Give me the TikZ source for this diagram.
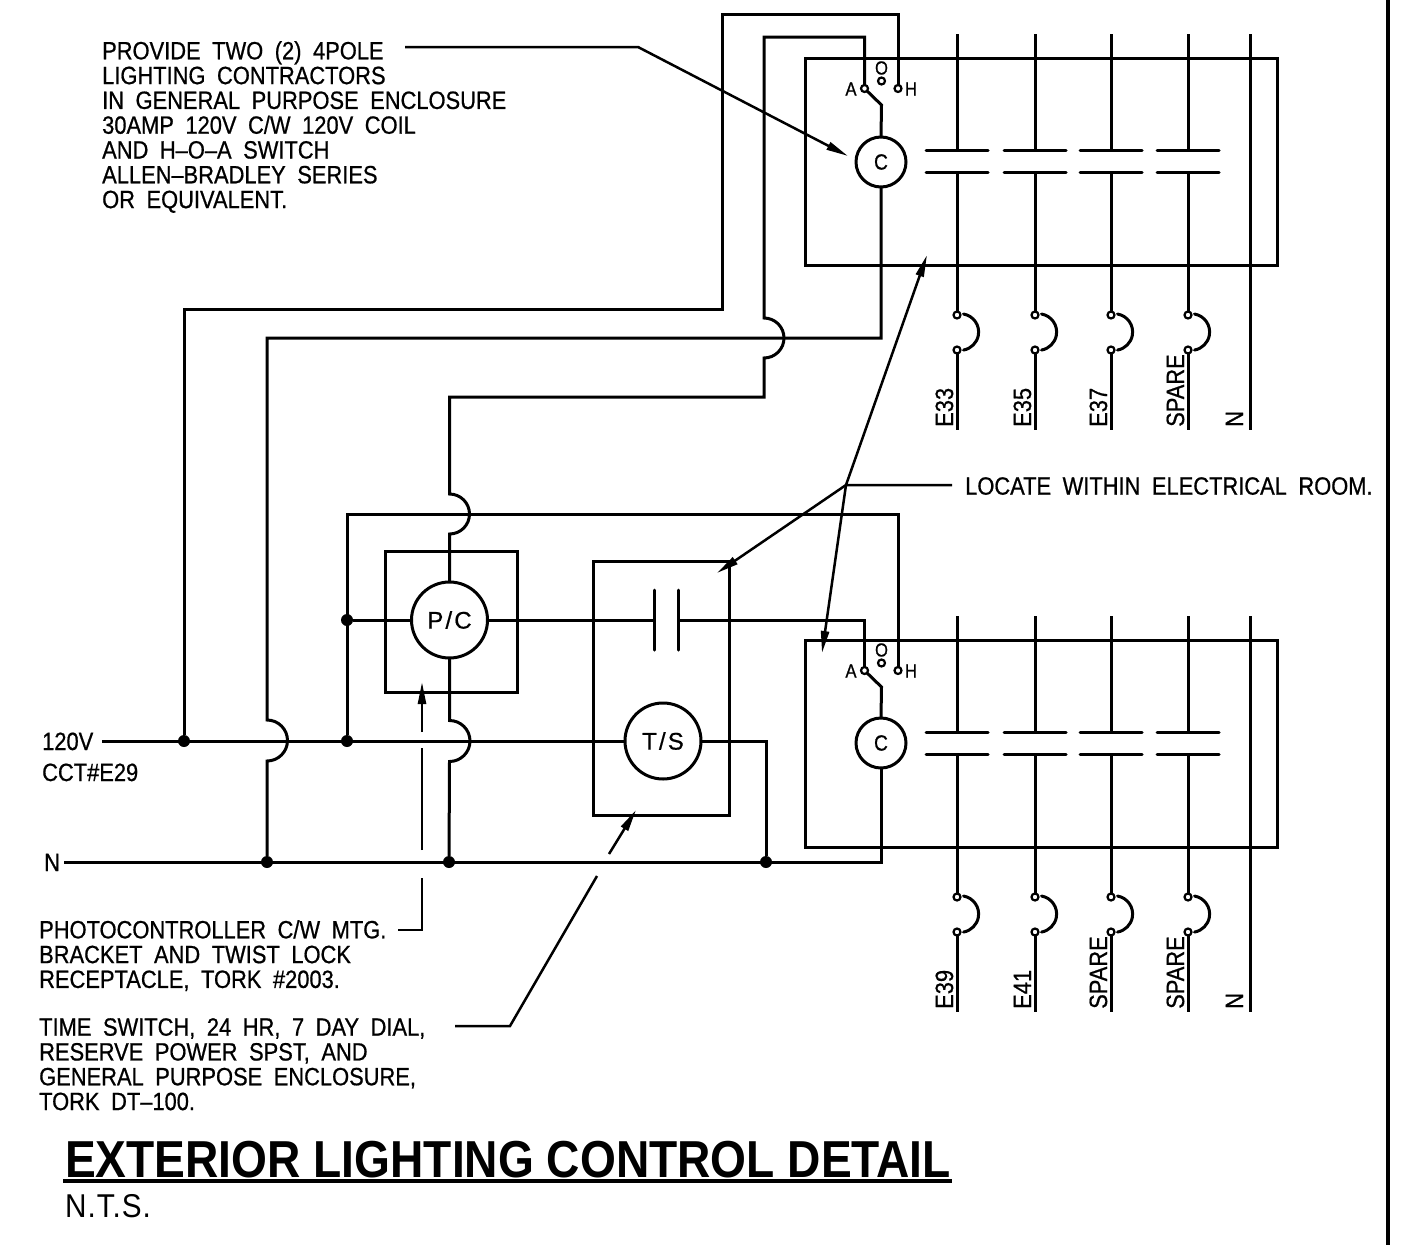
\documentclass[tikz,border=0pt]{standalone}
\usepackage{fontspec}
\usepackage{tikz}
\usetikzlibrary{arrows.meta}
\newfontfamily\cadfont[FakeStretch=0.875,WordSpace=1.9,FakeBold=0.7]{Liberation Sans}
\newfontfamily\devfont[LetterSpace=9,FakeBold=0.7]{Liberation Sans}
\newfontfamily\titlefont[FakeStretch=0.887]{Liberation Sans Bold}
\newfontfamily\ntsfont[FakeStretch=0.9,LetterSpace=3]{Liberation Sans}
\newcommand{\cadsize}{\cadfont\fontsize{25}{24.8}\selectfont}
\tikzset{coil node/.style={circle,draw,line width=3pt,outer sep=0pt,inner sep=0pt,minimum size=50pt,font=\cadfont\fontsize{22}{22}\selectfont},
	device node/.style={circle,draw,line width=3pt,outer sep=0pt,inner sep=0pt,minimum size=76pt,font=\devfont\fontsize{24}{24}\selectfont},
	box node/.style={rectangle,draw,line width=3pt,outer sep=0pt,inner sep=0pt},
	term node/.style={circle,draw,line width=2.2pt,outer sep=0pt,inner sep=0pt,minimum size=7pt},
	dot node/.style={circle,fill=black,outer sep=0pt,inner sep=0pt,minimum size=12pt},
	note node/.style={anchor=north west,align=left,inner sep=0pt,font=\cadsize},
	label node/.style={anchor=base west,inner sep=0pt,font=\cadsize},
	small node/.style={inner sep=0pt,font=\cadfont\fontsize{19}{19}\selectfont},
	wire/.style={line width=3pt,line join=miter},
	leader/.style={line width=2.5pt},
	tip/.style={-{Triangle[length=22pt,width=8pt]}},
}

\begin{document}
\begin{tikzpicture}[x=1pt,y=-1pt]
	\useasboundingbox (0,0) rectangle (1416,1245);
	
	% enclosures
	\node[box node,minimum width=472pt,minimum height=207pt] (box1) at (1041,161.5){};
	\node[box node,minimum width=472pt,minimum height=207pt] (box2) at (1041,744){};
	\node[box node,minimum width=132pt,minimum height=141pt] (boxpc) at (451,622){};
	\node[box node,minimum width=136pt,minimum height=254pt] (boxts) at (661,688){};
	
	% coils and devices
	\node[coil node] (coil1) at (881,162){C};
	\node[coil node] (coil2) at (881,743){C};
	\node[device node] (pc) at (449.5,620){P/C};
	\node[device node] (ts) at (663,741){T/S};
	
	% hand-off-auto switches
	\node[term node] (a1) at (864.5,88.5){};
	\node[term node] (o1) at (881.5,81){};
	\node[term node] (h1) at (898,88.5){};
	\node[term node] (a2) at (864.5,670.5){};
	\node[term node] (o2) at (881.5,663){};
	\node[term node] (h2) at (898,670.5){};
	\node[small node] (a1t) at (851,89){A};
	\node[small node] (o1t) at (881.5,68){O};
	\node[small node] (h1t) at (911,89){H};
	\node[small node] (a2t) at (851,671){A};
	\node[small node] (o2t) at (881.5,650){O};
	\node[small node] (h2t) at (911,671){H};
	\coordinate (k1) at (881.5,105);
	\coordinate (k2) at (881.5,687);
	\draw[wire] (a1) -- (k1) -- (coil1.north);
	\draw[wire] (a2) -- (k2) -- (coil2.north);
	
	% feeders, contacts and breakers
	\foreach \x/\dy/\n/\lab in {957/0/1/E33,1035/0/2/E35,1111/0/3/E37,1188/0/4/SPARE,957/582/5/E39,1035/582/6/E41,1111/582/7/SPARE,1188/582/8/SPARE}{
		\begin{scope}[shift={(\x,\dy)}]
			\coordinate (ftop\n) at (0,34);
			\coordinate (pa\n) at (0,150);
			\coordinate (pb\n) at (0,172);
			\coordinate (fend\n) at (0,430);
			\coordinate (arc\n) at (6.5,314);
			\node[term node] (ba\n) at (0,315){};
			\node[term node] (bb\n) at (0,350){};
			\node[label node,rotate=90] (lab\n) at (-4,427){\lab};
			\draw[wire] (ftop\n) -- (pa\n);
			\draw[wire] (pb\n) -- (ba\n);
			\draw[wire] (bb\n) -- (fend\n);
			\draw[wire,line cap=round] (-31,150) -- (31,150);
			\draw[wire,line cap=round] (-31,172) -- (31,172);
			\draw[wire,line cap=round] (arc\n) arc[start angle=-80,end angle=80,radius=18.3];
		\end{scope}
	}
	\coordinate (n1top) at (1250,34);
	\coordinate (n1end) at (1250,430);
	\coordinate (n2top) at (1250,616);
	\coordinate (n2end) at (1250,1012);
	\draw[wire] (n1top) -- (n1end);
	\draw[wire] (n2top) -- (n2end);
	\node[label node,rotate=90] (n1t) at (1243,427){N};
	\node[label node,rotate=90] (n2t) at (1243,1009){N};
	
	% power wiring
	\node[label node] (v120) at (42,750){120V};
	\node[label node] (cct) at (42,781){CCT\#E29};
	\node[label node] (neu) at (44,871){N};
	\coordinate (busl) at (102,741);
	\coordinate (neul) at (64,862);
	\coordinate (neur) at (881,862);
	\node[dot node] (d1) at (184,741){};
	\node[dot node] (d2) at (347,741){};
	\node[dot node] (d3) at (347,620){};
	\node[dot node] (d4) at (267,862){};
	\node[dot node] (d5) at (449,862){};
	\node[dot node] (d6) at (766,862){};
	\coordinate (w1) at (722,14);
	\coordinate (w2) at (184,309);
	\coordinate (w3) at (764,37);
	\coordinate (w4) at (449.5,397);
	\coordinate (w5) at (881,338);
	\coordinate (w6) at (898,514);
	\coordinate (w7) at (347,514);
	\coordinate (pl) at (654,620);
	\coordinate (pr) at (678,620);
	
	\draw[wire] (busl) -- (ts.west);
	\draw[wire] (neul) -- (neur) -- (coil2.south);
	\draw[wire] (h1) |- (w1) |- (w2) -- (d1);
	\draw[wire] (a1) |- (w3) -- (764,318) arc[start angle=-90,end angle=90,radius=20] |- (w4) -- (449.5,494) arc[start angle=-90,end angle=90,radius=20] -- (pc.north);
	\draw[wire] (coil1.south) -- (w5) -| (267,720) arc[start angle=-90,end angle=90,radius=20.5] -- (d4);
	\draw[wire] (pc.south) -- (449.5,720.5) arc[start angle=-90,end angle=90,radius=20.5] -- (d5);
	\draw[wire] (h2) |- (w7) -- (d2);
	\draw[wire] (d3) -- (pc.west);
	\draw[wire] (pc.east) -- (pl);
	\draw[wire] (pr) -| (a2);
	\draw[wire] (ts.east) -| (d6);
	\draw[wire,line cap=round] (654,590) -- (pl) -- (654,650);
	\draw[wire,line cap=round] (678,590) -- (pr) -- (678,650);
	
	% notes
	\node[note node] (note1) at (102,41){PROVIDE TWO (2) 4POLE\\LIGHTING CONTRACTORS\\IN GENERAL PURPOSE ENCLOSURE\\30AMP 120V C/W 120V COIL\\AND H–O–A SWITCH\\ALLEN–BRADLEY SERIES\\OR EQUIVALENT.};
	\node[note node] (note2) at (965,477){LOCATE WITHIN ELECTRICAL ROOM.};
	\node[note node] (note3) at (39,920){PHOTOCONTROLLER C/W MTG.\\BRACKET AND TWIST LOCK\\RECEPTACLE, TORK \#2003.};
	\node[note node] (note4) at (39,1018){TIME SWITCH, 24 HR, 7 DAY DIAL,\\RESERVE POWER SPST, AND\\GENERAL PURPOSE ENCLOSURE,\\TORK DT–100.};
	
	% leaders
	\coordinate (l1a) at (405,47);
	\coordinate (l1b) at (638,47);
	\coordinate (l1c) at (848,156);
	\coordinate (l2a) at (952,485);
	\coordinate (l2b) at (846,485);
	\coordinate (l2c) at (717,573);
	\coordinate (l2d) at (927,255);
	\coordinate (l2e) at (822,653);
	\coordinate (l3a) at (398,930);
	\coordinate (l3b) at (422,930);
	\coordinate (l3c) at (422,878);
	\coordinate (l3d) at (422,850);
	\coordinate (l3e) at (422,748);
	\coordinate (l3f) at (422,732);
	\coordinate (l3g) at (422,682);
	\coordinate (l4a) at (455,1026);
	\coordinate (l4b) at (510,1026);
	\coordinate (l4c) at (597,876);
	\coordinate (l4d) at (609,854);
	\coordinate (l4e) at (636,810);
	\draw[leader,tip] (l1a) -- (l1b) -- (l1c);
	\draw[leader,tip] (l2a) -- (l2b) -- (l2c);
	\draw[leader,tip] (l2b) -- (l2d);
	\draw[leader,tip] (l2b) -- (l2e);
	\draw[leader] (l3a) -- (l3b) -- (l3c);
	\draw[leader] (l3d) -- (l3e);
	\draw[leader,tip] (l3f) -- (l3g);
	\draw[leader] (l4a) -- (l4b) -- (l4c);
	\draw[leader,tip] (l4d) -- (l4e);
	
	% title
	\node[anchor=base west,inner sep=0pt,font=\titlefont\fontsize{52}{52}\selectfont] (title) at (65,1177){EXTERIOR LIGHTING CONTROL DETAIL};
	\coordinate (ula) at (63,1181);
	\coordinate (ulb) at (952,1181);
	\draw[line width=4pt] (ula) -- (ulb);
	\node[anchor=base west,inner sep=0pt,font=\ntsfont\fontsize{33}{33}\selectfont] (nts) at (65,1217){N.T.S.};
	
	% sheet edge
	\coordinate (edget) at (1388,0);
	\coordinate (edgeb) at (1388,1245);
	\draw[line width=4pt] (edget) -- (edgeb);
\end{tikzpicture}
\end{document}
